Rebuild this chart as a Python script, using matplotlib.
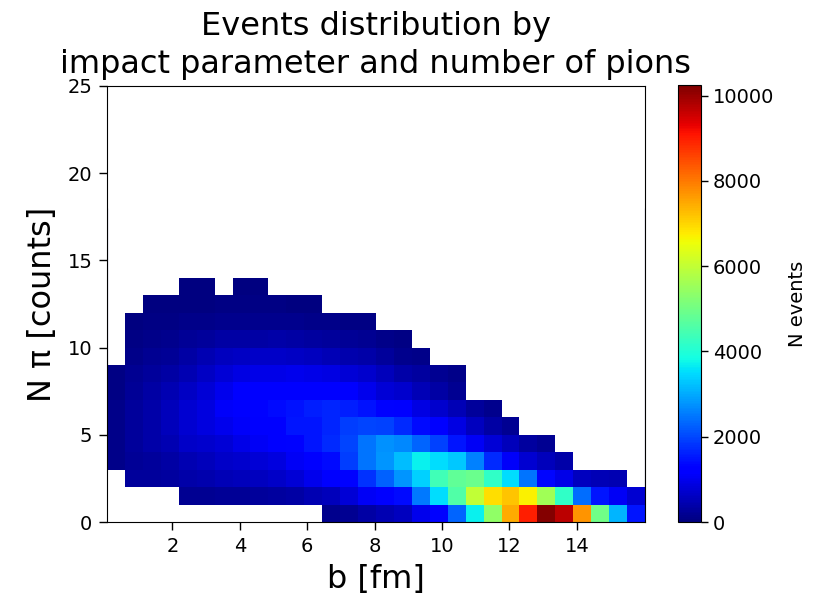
import numpy as np
import matplotlib
matplotlib.use('Agg')
import matplotlib.pyplot as plt

n = np.nan

# b bin edges and pion count bin edges
b_edges = np.linspace(0.06, 16.02, 31)
pi_edges = np.arange(0, 15)

# counts per pion row, one value per b bin
row0 = [n, n, n, n, n, n, n, n, n, n, n, n, 150, 200, 350, 450, 600, 1000, 1300, 2300, 3700, 5400, 7450, 9000, 10200, 9700, 7700, 5000, 3100, 1500]
row1 = [n, n, n, n, 200, 200, 220, 230, 250, 300, 350, 450, 550, 800, 1050, 1150, 1400, 2500, 3500, 4600, 6000, 6900, 7200, 6700, 5600, 4200, 2400, 1500, 1050, 750]
row2 = [n, 250, 280, 320, 380, 430, 520, 550, 600, 650, 800, 1000, 1200, 1300, 1800, 2250, 2800, 3400, 4400, 4800, 4900, 4200, 3500, 2450, 1350, 950, 600, 500, 450, n]
row3 = [100, 220, 280, 330, 450, 550, 650, 720, 780, 880, 1050, 1150, 1400, 1900, 2450, 2800, 3200, 3700, 3500, 3300, 2600, 1700, 1100, 750, 550, 400, n, n, n, n]
row4 = [100, 270, 380, 480, 650, 720, 780, 950, 1050, 1200, 1300, 1500, 1700, 2000, 2450, 2750, 2650, 2300, 1950, 1500, 1050, 800, 550, 300, 200, n, n, n, n, n]
row5 = [110, 270, 400, 530, 750, 880, 1000, 1120, 1200, 1250, 1500, 1500, 1650, 1900, 2000, 1950, 1700, 1400, 1150, 900, 600, 350, 200, n, n, n, n, n, n, n]
row6 = [90, 280, 400, 530, 750, 880, 1100, 1200, 1300, 1400, 1450, 1600, 1650, 1600, 1450, 1300, 1200, 900, 700, 500, 250, 150, n, n, n, n, n, n, n, n]
row7 = [80, 230, 340, 470, 640, 800, 1000, 1150, 1200, 1200, 1200, 1200, 1200, 1150, 1000, 800, 700, 500, 350, 200, n, n, n, n, n, n, n, n, n, n]
row8 = [70, 170, 260, 360, 470, 620, 800, 900, 950, 950, 1000, 950, 900, 800, 700, 550, 400, 300, 180, 120, n, n, n, n, n, n, n, n, n, n]
row9 = [n, 100, 170, 230, 350, 480, 570, 620, 650, 650, 620, 570, 500, 440, 380, 250, 160, 90, n, n, n, n, n, n, n, n, n, n, n, n]
row10 = [n, 75, 100, 160, 220, 280, 330, 350, 350, 380, 350, 310, 280, 220, 190, 120, 60, n, n, n, n, n, n, n, n, n, n, n, n, n]
row11 = [n, 30, 50, 75, 100, 120, 150, 160, 160, 160, 150, 120, 100, 75, 50, n, n, n, n, n, n, n, n, n, n, n, n, n, n, n]
row12 = [n, n, 15, 25, 30, 40, 45, 50, 50, 45, 40, 30, n, n, n, n, n, n, n, n, n, n, n, n, n, n, n, n, n, n]
row13 = [n, n, n, n, 10, 12, n, 15, 12, n, n, n, n, n, n, n, n, n, n, n, n, n, n, n, n, n, n, n, n, n]

counts = np.ma.masked_invalid(np.array([row0, row1, row2, row3, row4, row5, row6, row7, row8, row9,
                                        row10, row11, row12, row13], dtype=float))

fig = plt.figure(figsize=(8.16, 5.95), dpi=100)
ax = fig.add_axes([107 / 816, 1 - 522 / 595, 538 / 816, 436 / 595])
cax = fig.add_axes([678 / 816, 1 - 522 / 595, 23 / 816, 437 / 595])

mesh = ax.pcolormesh(b_edges, pi_edges, counts, cmap='jet', vmin=0, vmax=10250)

# thin dark slivers along both side edges
navy = plt.get_cmap('jet')(0)
ax.vlines(b_edges[0], 9, 18, color=navy, lw=0.8)
ax.vlines(b_edges[-1], 2, 18, color=navy, lw=0.8)

ax.set_xlim(b_edges[0], b_edges[-1])
ax.set_ylim(0, 25)
ax.set_xticks([2, 4, 6, 8, 10, 12, 14])
ax.set_yticks([0, 5, 10, 15, 20, 25])
ax.tick_params(labelsize=14, length=5.5, width=1, pad=5)
ax.set_xlabel('b [fm]', fontsize=23, labelpad=6)
ax.set_ylabel('N π [counts]', fontsize=23, labelpad=7)
ax.set_title('Events distribution by\nimpact parameter and number of pions', fontsize=23, pad=9.5, linespacing=1.3)

cbar = fig.colorbar(mesh, cax=cax)
cbar.set_ticks([0, 2000, 4000, 6000, 8000, 10000])
cbar.ax.tick_params(labelsize=14, length=5, width=1)
cbar.set_label('N events', fontsize=14, labelpad=10)

fig.savefig('out.png', dpi=100)
